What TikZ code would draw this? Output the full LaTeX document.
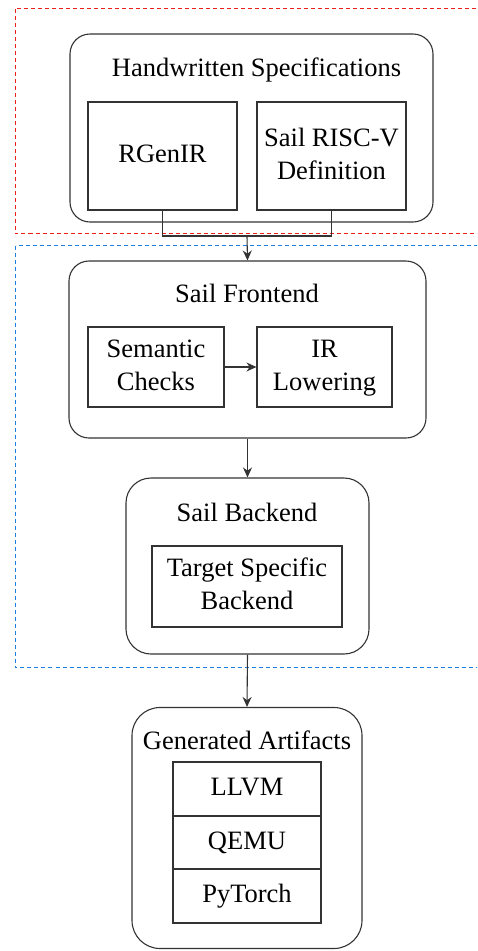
\documentclass[tikz,border=0pt]{standalone}
\usepackage{fontspec}
\setmainfont{Liberation Serif}
\usetikzlibrary{arrows.meta}
\definecolor{redgrp}{HTML}{E8201A}
\definecolor{bluegrp}{HTML}{1F7FE0}
\definecolor{edge}{HTML}{333333}
\begin{document}
\begin{tikzpicture}[x=1pt,y=-1pt,
  every node/.style={font=\fontsize{26.5}{33}\selectfont, text=black},
  outerbox/.style={draw=edge, line width=1.1pt, inner sep=0pt},
  innerbox/.style={draw=edge, line width=1.1pt, inner sep=0pt, align=center},
  title/.style={anchor=base, inner sep=0pt},
  grp/.style={dash pattern=on 4pt off 3pt, line width=1.3pt},
  conn/.style={draw=edge, line width=1.1pt},
  arr/.style={conn, -{Stealth[length=10pt,width=9pt]}}]
\useasboundingbox (0,0) rectangle (477,951);
\clip (0,0) rectangle (477,951);
% group frames
\draw[redgrp, grp] (15.5,8.5) rectangle (500,233.5);
\draw[bluegrp, grp] (15.5,245.5) rectangle (500,667.5);
% Handwritten specifications
\node[outerbox, rounded corners=20pt, minimum width=363pt, minimum height=188pt] (hs) at (251.5,128) {};
\node[title] (hst) at (256.5,76) {Handwritten Specifications};
\node[innerbox, minimum width=149pt, minimum height=108pt] (rg) at (162.5,156) {\strut RGenIR};
\node[innerbox, minimum width=149pt, minimum height=108pt] (sd) at (331.5,156) {\strut Sail RISC-V\\\strut Definition};
% Sail frontend
\node[outerbox, rounded corners=20pt, minimum width=357pt, minimum height=177pt] (sf) at (247.5,349.5) {};
\node[title] (sft) at (247,302) {Sail Frontend};
\node[innerbox, minimum width=136pt, minimum height=80pt] (sc) at (156,367) {\strut Semantic\\\strut Checks};
\node[innerbox, minimum width=135pt, minimum height=80pt] (irl) at (324.5,367) {\strut IR\\\strut Lowering};
% Sail backend
\node[outerbox, rounded corners=25pt, minimum width=243pt, minimum height=176pt] (sb) at (247.5,566) {};
\node[title] (sbt) at (247,521) {Sail Backend};
\node[innerbox, minimum width=190pt, minimum height=81pt] (tsb) at (247,586.5) {\strut Target Specific\\\strut Backend};
% Generated artifacts
\node[outerbox, rounded corners=28pt, minimum width=230pt, minimum height=241pt] (ga) at (247,828) {};
\node[title] (gat) at (247,749) {Generated Artifacts};
\node[innerbox, minimum width=148pt, minimum height=54pt] (llvm) at (247,789) {\strut LLVM};
\node[innerbox, minimum width=148pt, minimum height=53pt] (qemu) at (247,842.5) {\strut QEMU};
\node[innerbox, minimum width=148pt, minimum height=54pt] (pyt) at (247,896) {\strut PyTorch};
% connectors
\coordinate (j) at (247,236);
\draw[conn] (rg.south) |- (j) -| (sd.south);
\draw[arr] (j) -- (sf.north);
\draw[arr] (sc.east) -- (irl.west);
\draw[arr] (sf.south) -- (sb.north);
\draw[arr] (sb.south) -- (ga.north);
\end{tikzpicture}
\end{document}
